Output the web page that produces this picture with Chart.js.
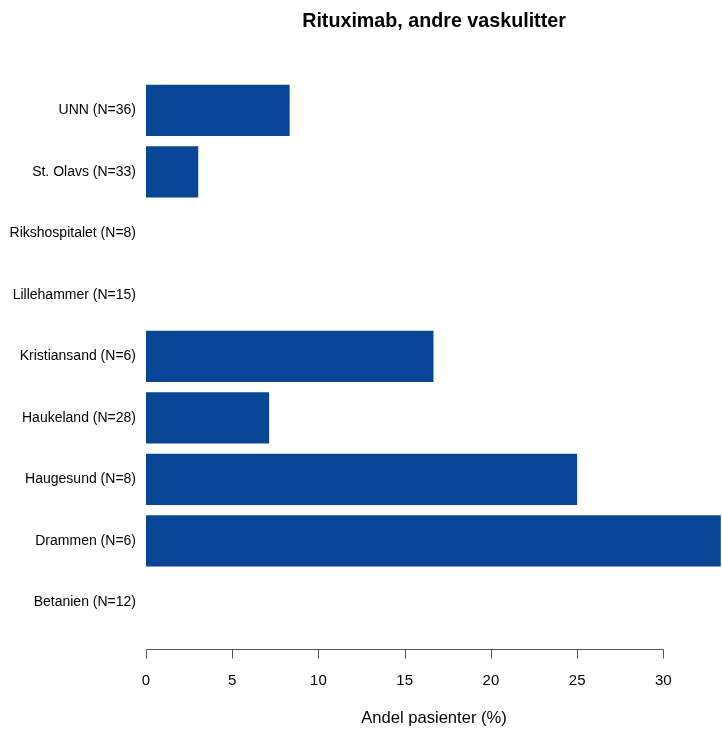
<!DOCTYPE html>
<html>
<head>
<meta charset="utf-8">
<script src="https://cdn.jsdelivr.net/npm/chart.js@4/dist/chart.umd.min.js"></script>
<style>
  html, body { margin: 0; padding: 0; background: #ffffff; }
  #wrap { width: 722px; height: 729px; }
</style>
</head>
<body>
<div id="wrap"><canvas id="c" width="722" height="729"></canvas></div>
<script>
// Hospitals (with number of patients) and share receiving rituximab, in percent
const hospitals = [
  'UNN (N=36)',
  'St. Olavs (N=33)',
  'Rikshospitalet (N=8)',
  'Lillehammer (N=15)',
  'Kristiansand (N=6)',
  'Haukeland (N=28)',
  'Haugesund (N=8)',
  'Drammen (N=6)',
  'Betanien (N=12)'
];
const sharePercent = [8.33, 3.03, 0, 0, 16.67, 7.14, 25, 33.33, 0];
const xTickValues = [0, 5, 10, 15, 20, 25, 30];

const FONT = '"Liberation Sans", Arial, Helvetica, sans-serif';
const BAR_COLOR = '#084594';

// R-style bottom axis: a line spanning first to last tick, lowered below the bars
const detachedAxis = {
  id: 'detachedAxis',
  afterDraw(chart) {
    const ctx = chart.ctx;
    const xs = chart.scales.x;
    const y = Math.round(chart.chartArea.bottom + 15.75) + 0.5;
    const x0 = Math.round(xs.getPixelForValue(xTickValues[0])) + 0.5;
    const x1 = Math.round(xs.getPixelForValue(xTickValues[xTickValues.length - 1])) + 0.5;
    ctx.save();
    ctx.strokeStyle = '#555555';
    ctx.lineWidth = 1;
    ctx.beginPath();
    ctx.moveTo(x0, y);
    ctx.lineTo(x1, y);
    xTickValues.forEach(v => {
      const px = Math.round(xs.getPixelForValue(v)) + 0.5;
      ctx.moveTo(px, y);
      ctx.lineTo(px, y + 9);
    });
    ctx.stroke();
    ctx.restore();
  }
};

new Chart(document.getElementById('c'), {
  type: 'bar',
  data: {
    labels: hospitals,
    datasets: [{
      data: sharePercent,
      backgroundColor: BAR_COLOR,
      borderWidth: 0,
      barPercentage: 0.833,
      categoryPercentage: 1.0
    }]
  },
  options: {
    indexAxis: 'y',
    responsive: false,
    animation: false,
    layout: { padding: 0 },
    plugins: {
      legend: { display: false },
      tooltip: { enabled: false },
      title: {
        display: true,
        text: 'Rituximab, andre vaskulitter',
        fullSize: false,
        color: '#000000',
        font: { family: FONT, size: 19.7, weight: 'bold' },
        padding: { top: 10, bottom: 46 }
      }
    },
    scales: {
      x: {
        type: 'linear',
        min: 0,
        max: 33.4,
        grid: { display: false, drawTicks: false },
        border: { display: false },
        ticks: {
          stepSize: 5,
          includeBounds: false,
          padding: 39,
          color: '#000000',
          font: { family: FONT, size: 15 },
          callback: v => (xTickValues.includes(v) ? String(v) : '')
        },
        title: {
          display: true,
          text: 'Andel pasienter (%)',
          color: '#000000',
          font: { family: FONT, size: 16.6 },
          padding: { top: 0, bottom: 1 }
        },
        afterFit(scale) { scale.height = 95.75; }
      },
      y: {
        grid: { display: false, drawTicks: false },
        border: { display: false },
        ticks: {
          padding: 10,
          color: '#000000',
          font: { family: FONT, size: 14 }
        },
        afterFit(scale) { scale.width = 146; }
      }
    }
  },
  plugins: [detachedAxis]
});
</script>
</body>
</html>
